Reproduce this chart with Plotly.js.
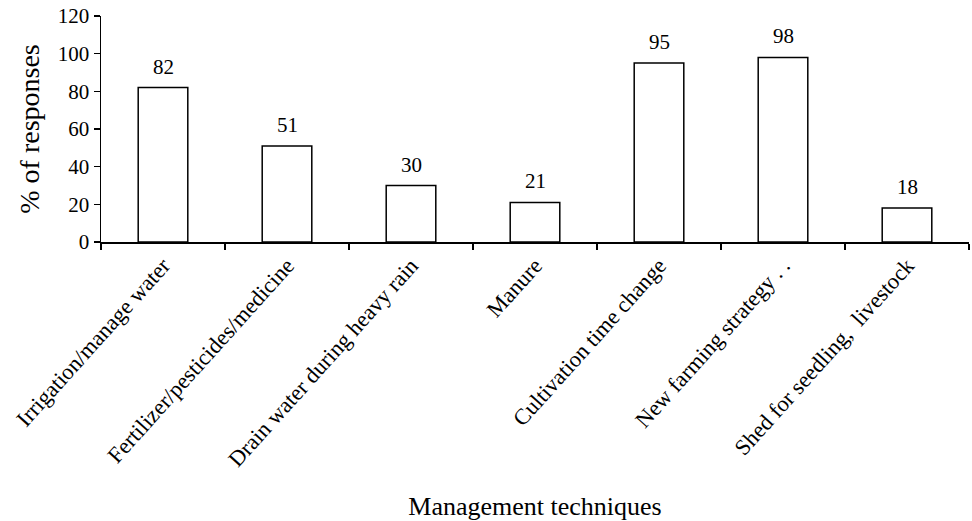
<!DOCTYPE html>
<html>
<head>
<meta charset="utf-8">
<script src="https://cdn.plot.ly/plotly-3.0.1.min.js"></script>
<style>
  html, body { margin: 0; padding: 0; background: #fff; }
  #chart { width: 972px; height: 521px; }
</style>
</head>
<body>
<div id="chart"></div>
<script>
// Management techniques and share of responses (%)
const techniques = [
  "Irrigation/manage water",
  "Fertilizer/pesticides/medicine",
  "Drain water during heavy rain",
  "Manure",
  "Cultivation time change",
  "New farming strategy . .",
  "Shed for seedling,  livestock"
];
const responses = [82, 51, 30, 21, 95, 98, 18];
const yTicks = [0, 20, 40, 60, 80, 100, 120];

const serif = "Liberation Serif, Times New Roman, serif";

const trace = {
  type: "bar",
  x: techniques,
  y: responses,
  marker: { color: "#ffffff", line: { color: "#000000", width: 1.5 } },
  hoverinfo: "skip"
};

// value labels sit a little above each bar
const valueLabels = techniques.map((t, i) => ({
  x: t,
  y: responses[i],
  xref: "x",
  yref: "y",
  text: String(responses[i]),
  showarrow: false,
  yanchor: "bottom",
  yshift: 7,
  font: { family: serif, size: 21, color: "#000" }
}));

const layout = {
  width: 972,
  height: 521,
  margin: { l: 101, r: 3, t: 16, b: 279 },
  paper_bgcolor: "#fff",
  plot_bgcolor: "#fff",
  bargap: 0.6,
  showlegend: false,
  font: { family: serif, color: "#000" },
  annotations: valueLabels,
  xaxis: {
    type: "category",
    tickangle: -48,
    tickson: "boundaries",
    ticks: "outside",
    ticklen: 6,
    tickwidth: 1.5,
    tickcolor: "#000",
    showline: true,
    linecolor: "#000",
    linewidth: 1.5,
    showgrid: false,
    automargin: false,
    tickfont: { family: serif, size: 22.5, color: "#000" },
    title: { text: "Management techniques", font: { family: serif, size: 26, color: "#000" }, standoff: 36 }
  },
  yaxis: {
    range: [0, 120],
    tickvals: yTicks,
    ticks: "outside",
    ticklen: 6,
    tickwidth: 1.5,
    tickcolor: "#000",
    showline: true,
    linecolor: "#000",
    linewidth: 1.5,
    showgrid: false,
    zeroline: false,
    automargin: false,
    tickfont: { family: serif, size: 21, color: "#000" },
    title: { text: "% of responses", font: { family: serif, size: 28, color: "#000" }, standoff: 10 }
  }
};

Plotly.newPlot("chart", [trace], layout, { displayModeBar: false, staticPlot: true });
</script>
</body>
</html>
